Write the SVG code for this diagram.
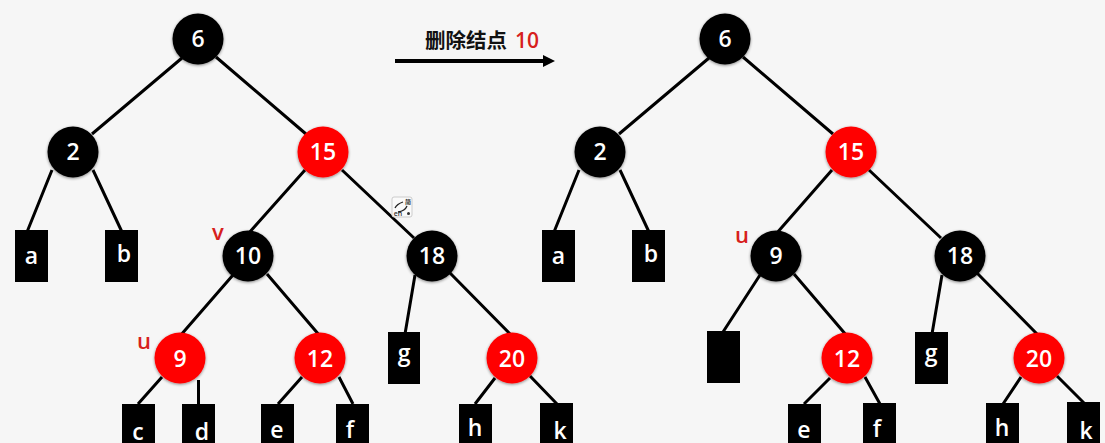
<svg xmlns="http://www.w3.org/2000/svg" width="1105" height="443" viewBox="0 0 1105 443">
<defs>
<style>
text{font-family:"Open Sans","Noto Sans CJK SC",sans-serif;font-weight:600;text-anchor:middle}
.e{stroke:#000;stroke-width:3;fill:none}
.b{fill:#000;filter:url(#s)}
.r{fill:#f00;filter:url(#s)}
.n{fill:#fff;font-size:23px}
.l{fill:#fff;font-size:23px}
.k{fill:#000}
.m{fill:#d7201c;font-size:22px}
</style>
<filter id="s" x="-20%" y="-20%" width="140%" height="140%"><feGaussianBlur in="SourceAlpha" stdDeviation="1.5"/><feOffset dy="1"/><feComponentTransfer><feFuncA type="linear" slope="0.45"/></feComponentTransfer><feMerge><feMergeNode/><feMergeNode in="SourceGraphic"/></feMerge></filter>
</defs>
<rect width="1105" height="443" fill="#f6f6f6"/>
<g id="connectors">
<path class="e" d="M182 58L92 134M216 57L306 134M52 170L27 232M93 170L122 232M305 170L248 234M342 170L414 238M233 275L180 336M267 274L320 336M415 275L405 334M450 273L512 336M162 377L138 404M198.500 380V404M302 377L278 404M339 377L353 404M495 378L475 404M530 376L557 404"/>
<path class="e" d="M709 58L619 134M743 57L833 134M579 170L554 232M620 170L649 232M832 170L776 234M869 170L941 238M760 275L723 332M794 274L847 336M942 275L932 334M977 273L1039 336M830 378L804 404M865 377L880 404M1021 377L1003 404M1057 376L1084 403"/>
<path d="M395 61H545" stroke="#000" stroke-width="4" fill="none"/>
<path d="M543 55L555 61L543 67Z" fill="#000"/>
</g>
<g id="title"><text x="466" y="48" font-size="20.500" font-weight="500" fill="#111">删除结点</text><text x="527" y="48" font-size="21" font-weight="700" fill="#d7201c">10</text></g>
<g id="ime-icon">
<rect x="392" y="197" width="20" height="20" rx="2" fill="#fafafa" stroke="#ccc"/>
<path d="M395 208Q397 204 403 202M398 212Q405 211 407 206" stroke="#222" stroke-width="1.300" fill="none"/>
<text x="408" y="204" font-size="6" font-weight="400" fill="#333">简</text>
<text x="398" y="216" font-size="7" fill="#333">en</text>
<circle cx="408.500" cy="213.500" r="1.500" fill="#333"/>
</g>
<g id="n6"><circle class="b" cx="198" cy="39" r="25.500"/><text class="n" x="198" y="47">6</text></g>
<g id="n2"><circle class="b" cx="73" cy="152" r="25.500"/><text class="n" x="73" y="160">2</text></g>
<g id="n15"><circle class="r" cx="323" cy="152" r="25.500"/><text class="n" x="323" y="160">15</text></g>
<g id="n10"><circle class="b" cx="248" cy="256" r="25.500"/><text class="n" x="248" y="264">10</text></g>
<g id="n18"><circle class="b" cx="432" cy="256" r="25.500"/><text class="n" x="432" y="264">18</text></g>
<g id="n9"><circle class="r" cx="180" cy="358" r="25.500"/><text class="n" x="180" y="367">9</text></g>
<g id="n12"><circle class="r" cx="320" cy="358" r="25.500"/><text class="n" x="320" y="367">12</text></g>
<g id="n20"><circle class="r" cx="512" cy="358" r="25.500"/><text class="n" x="512" y="367">20</text></g>
<g id="la"><rect class="k" x="15" y="230" width="33" height="52"/><text class="l" x="31.500" y="264">a</text></g>
<g id="lb"><rect class="k" x="105" y="230" width="33" height="52"/><text class="l" x="124" y="262">b</text></g>
<g id="lg"><rect class="k" x="388" y="332" width="32" height="52"/><text class="l" x="404" y="361">g</text></g>
<g id="lc"><rect class="k" x="122" y="404" width="33" height="39"/><text class="l" x="138" y="440">c</text></g>
<g id="ld"><rect class="k" x="182" y="404" width="33" height="39"/><text class="l" x="202" y="440">d</text></g>
<g id="le"><rect class="k" x="261" y="404" width="33" height="39"/><text class="l" x="277" y="438">e</text></g>
<g id="lf"><rect class="k" x="336" y="404" width="33" height="39"/><text class="l" x="350" y="438">f</text></g>
<g id="lh"><rect class="k" x="459" y="404" width="33" height="39"/><text class="l" x="475" y="436">h</text></g>
<g id="lk"><rect class="k" x="540" y="403" width="33" height="40"/><text class="l" x="560" y="439">k</text></g>
<text class="m" x="218" y="240">v</text>
<text class="m" x="144" y="349">u</text>
<g id="r6"><circle class="b" cx="725" cy="39" r="25.500"/><text class="n" x="725" y="47">6</text></g>
<g id="r2"><circle class="b" cx="600" cy="152" r="25.500"/><text class="n" x="600" y="160">2</text></g>
<g id="r15"><circle class="r" cx="851" cy="152" r="25.500"/><text class="n" x="851" y="160">15</text></g>
<g id="r9"><circle class="b" cx="776" cy="256" r="25.500"/><text class="n" x="776" y="264">9</text></g>
<g id="r18"><circle class="b" cx="960" cy="256" r="25.500"/><text class="n" x="960" y="264">18</text></g>
<g id="r12"><circle class="r" cx="847" cy="358" r="25.500"/><text class="n" x="847" y="367">12</text></g>
<g id="r20"><circle class="r" cx="1039" cy="358" r="25.500"/><text class="n" x="1039" y="367">20</text></g>
<g id="ra"><rect class="k" x="542" y="230" width="33" height="52"/><text class="l" x="558.500" y="264">a</text></g>
<g id="rb"><rect class="k" x="632" y="230" width="33" height="52"/><text class="l" x="651" y="262">b</text></g>
<g id="rnil"><rect class="k" x="707" y="331" width="33" height="52"/></g>
<g id="rg"><rect class="k" x="915" y="332" width="33" height="52"/><text class="l" x="931" y="361">g</text></g>
<g id="re"><rect class="k" x="788" y="404" width="33" height="39"/><text class="l" x="804" y="438">e</text></g>
<g id="rf"><rect class="k" x="863" y="403" width="33" height="40"/><text class="l" x="877" y="437">f</text></g>
<g id="rh"><rect class="k" x="986" y="403" width="33" height="40"/><text class="l" x="1002" y="436">h</text></g>
<g id="rk"><rect class="k" x="1067" y="402" width="33" height="41"/><text class="l" x="1086" y="439">k</text></g>
<text class="m" x="742" y="243">u</text>
</svg>
